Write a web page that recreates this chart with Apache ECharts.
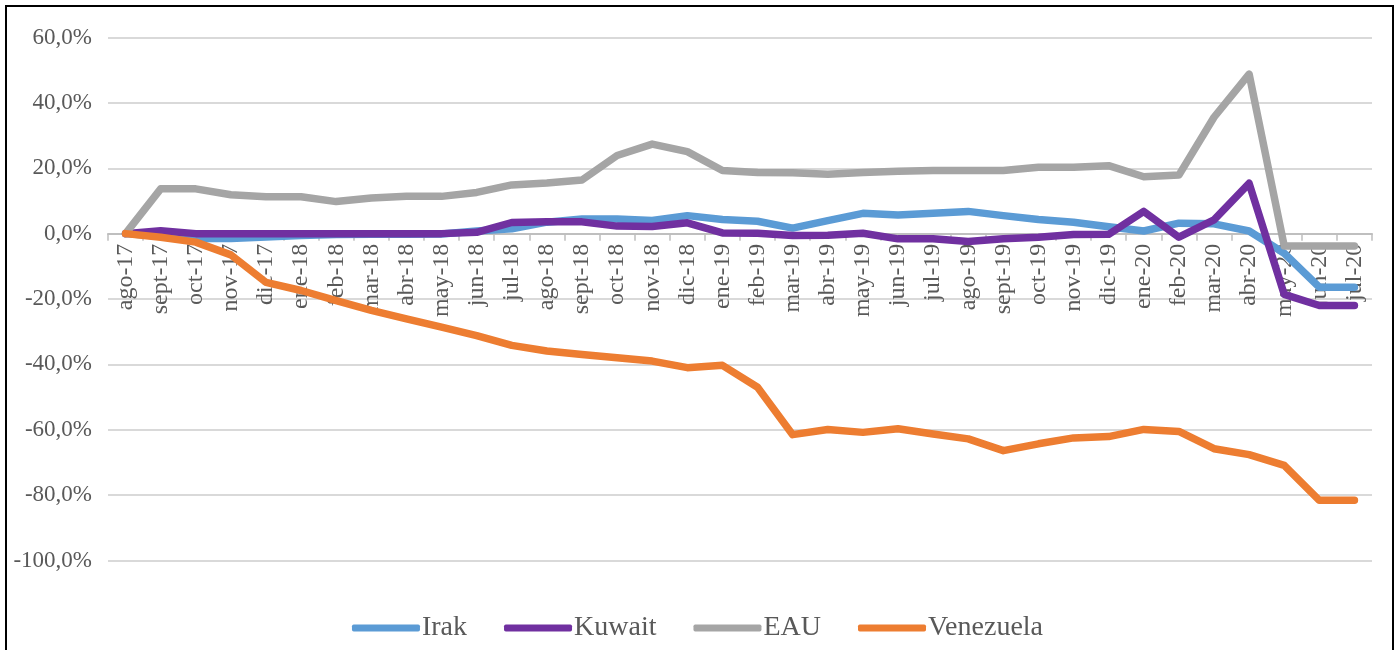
<!DOCTYPE html>
<html>
<head>
<meta charset="utf-8">
<title>Irak, Kuwait, EAU, Venezuela</title>
<script src="https://cdn.jsdelivr.net/npm/echarts@6/dist/echarts.min.js"></script>
<style>
  html, body { margin: 0; padding: 0; background: #fff; }
  #chart { width: 1395px; height: 650px; }
</style>
</head>
<body>
<div id="chart"></div>
<script>
// Months, August 2017 to July 2020
const months = [
  'ago-17','sept-17','oct-17','nov-17','dic-17',
  'ene-18','feb-18','mar-18','abr-18','may-18','jun-18','jul-18','ago-18','sept-18','oct-18','nov-18','dic-18',
  'ene-19','feb-19','mar-19','abr-19','may-19','jun-19','jul-19','ago-19','sept-19','oct-19','nov-19','dic-19',
  'ene-20','feb-20','mar-20','abr-20','may-20','jun-20','jul-20'
];

// Cumulative change, percent
const irak = [0, -0.8, -1.5, -1.5, -1.0, -0.6, -0.3, -0.2, -0.2, -0.1, 0.8, 1.5, 3.5, 4.5, 4.5, 4.0, 5.5,
  4.3, 3.8, 1.7, 4.0, 6.2, 5.7, 6.2, 6.8, 5.5, 4.3, 3.5, 2.1, 0.8, 3.2, 3.0, 0.8, -6.0, -16.4, -16.4];
const kuwait = [0, 0.9, 0, 0, 0, 0, 0, 0, 0, 0, 0.4, 3.4, 3.6, 3.6, 2.3, 2.2, 3.3,
  0.2, 0.1, -0.6, -0.5, 0.1, -1.6, -1.6, -2.4, -1.6, -1.1, -0.3, -0.2, 6.8, -1.1, 4.2, 15.4, -18.6, -22.0, -22.0];
const eau = [0, 13.7, 13.7, 11.9, 11.3, 11.3, 9.8, 10.9, 11.4, 11.4, 12.6, 14.9, 15.5, 16.4, 23.9, 27.4, 25.1,
  19.3, 18.7, 18.6, 18.2, 18.7, 19.1, 19.3, 19.3, 19.3, 20.3, 20.3, 20.8, 17.4, 17.9, 35.6, 48.8, -3.8, -3.8, -3.8];
const venezuela = [0, -1.1, -2.6, -6.5, -14.9, -17.4, -20.5, -23.5, -26.1, -28.6, -31.2, -34.2, -35.9, -37.0, -38.0, -39.0, -41.0,
  -40.3, -47.0, -61.5, -59.9, -60.8, -59.7, -61.3, -62.8, -66.4, -64.3, -62.5, -62.1, -59.9, -60.5, -65.8, -67.6, -70.9, -81.6, -81.6];

const seriesNames = ['Irak', 'Kuwait', 'EAU', 'Venezuela'];
const seriesData = [irak, kuwait, eau, venezuela];
const seriesColors = ['#5B9BD5', '#7030A0', '#A5A5A5', '#ED7D31'];

const FONT = '"Liberation Serif", "Times New Roman", serif';
const TEXT = '#595959';

// Value range of the vertical axis and the plot box
const Y_MIN = -100, Y_MAX = 60, Y_STEP = 20;
const GRID = { left: 108, right: 23, top: 37.5, bottom: 89.5 };
const PLOT_H = 650 - GRID.top - GRID.bottom;
// lift the category axis (line, ticks and labels) up to the 0% level
const zeroLift = -PLOT_H * (0 - Y_MIN) / (Y_MAX - Y_MIN);

const chart = echarts.init(document.getElementById('chart'), null, { renderer: 'canvas' });

chart.setOption({
  backgroundColor: '#ffffff',
  animation: false,
  grid: Object.assign({ containLabel: false }, GRID),
  xAxis: {
    type: 'category',
    data: months,
    boundaryGap: true,
    offset: zeroLift,
    z: 0,
    axisLine: { onZero: false, lineStyle: { color: '#BFBFBF', width: 2 } },
    axisTick: { show: true, interval: 0, length: 7, lineStyle: { color: '#BFBFBF', width: 1.5 } },
    axisLabel: {
      interval: 0, rotate: 90, margin: 10,
      fontFamily: FONT, fontSize: 24, color: TEXT
    },
    splitLine: { show: false }
  },
  yAxis: {
    type: 'value',
    min: Y_MIN, max: Y_MAX, interval: Y_STEP,
    axisLine: { show: false },
    axisTick: { show: false },
    axisLabel: {
      margin: 16, fontFamily: FONT, fontSize: 23, color: TEXT,
      formatter: v => v.toFixed(1).replace('.', ',') + '%'
    },
    splitLine: { lineStyle: { color: '#D9D9D9', width: 2 } }
  },
  legend: {
    data: seriesNames,
    top: 609,
    left: 'center',
    icon: 'roundRect',
    itemWidth: 68,
    itemHeight: 7,
    itemGap: 37,
    textStyle: { fontFamily: FONT, fontSize: 28, color: TEXT, padding: [0, 0, 0, -3] }
  },
  graphic: [{
    type: 'rect',
    shape: { x: 6, y: 6, width: 1387, height: 660 },
    style: { fill: 'none', stroke: '#000', lineWidth: 2 },
    silent: true,
    z: 100
  }],
  series: seriesNames.map((name, i) => ({
    name,
    type: 'line',
    data: seriesData[i],
    symbol: 'none',
    color: seriesColors[i],
    z: 3 + i,
    lineStyle: { width: 7.5, color: seriesColors[i], cap: 'round', join: 'round' }
  }))
});
</script>
</body>
</html>
